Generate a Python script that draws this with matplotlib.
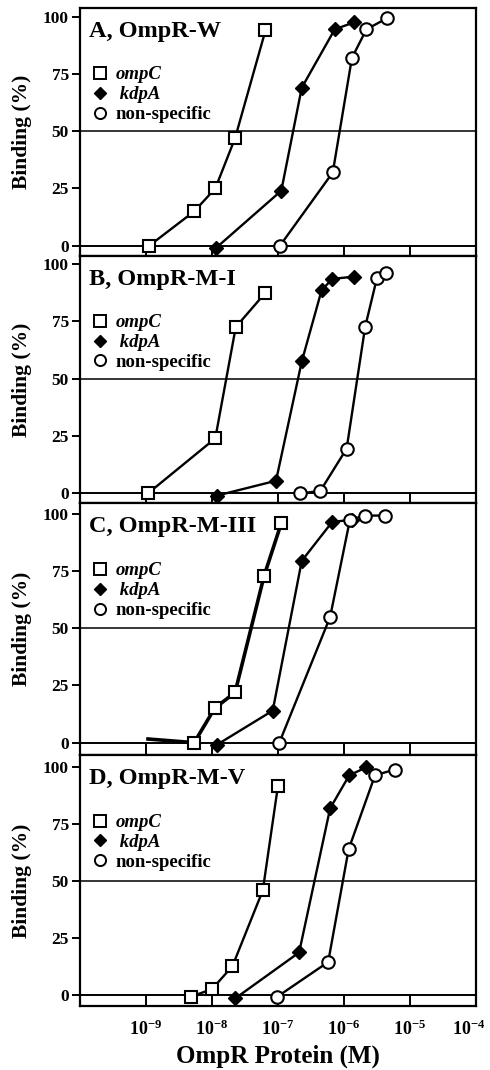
import matplotlib
matplotlib.use("Agg")
import matplotlib.pyplot as plt
import matplotlib.transforms as mtransforms
from matplotlib.lines import Line2D
import numpy as np

plt.rcParams['font.family'] = ['Liberation Serif', 'DejaVu Serif']
plt.rcParams['font.weight'] = 'bold'
plt.rcParams['mathtext.fontset'] = 'custom'
plt.rcParams['mathtext.rm'] = 'Liberation Serif:bold'
plt.rcParams['mathtext.it'] = 'Liberation Serif:bold:italic'
plt.rcParams['mathtext.bf'] = 'Liberation Serif:bold'

# ---- data (log10 of OmpR concentration in M, binding %) ----
panel_titles = ["A, OmpR-W", "B, OmpR-M-I", "C, OmpR-M-III", "D, OmpR-M-V"]
series_labels = ["ompC", " kdpA", "non-specific"]

# Panel A
a_ompc_logx = [-8.95, -8.27, -7.95, -7.65, -7.19]
a_ompc_y = [0, 15, 25, 47, 94]
a_kdpa_logx = [-7.94, -6.95, -6.64, -6.14, -5.85]
a_kdpa_y = [-1, 24, 69, 94.5, 97.5]
a_ns_logx = [-6.97, -6.17, -5.88, -5.66, -5.35]
a_ns_y = [0, 32, 82, 94.5, 99.3]

# Panel B
b_ompc_logx = [-8.97, -7.95, -7.64, -7.19]
b_ompc_y = [0, 24, 72.5, 87.5]
b_kdpa_logx = [-7.93, -7.03, -6.64, -6.34, -6.18, -5.85]
b_kdpa_y = [-1, 5.5, 57.5, 88.5, 93.5, 94.5]
b_ns_logx = [-6.67, -6.36, -5.96, -5.68, -5.50, -5.36]
b_ns_y = [0, 1, 19.5, 72.5, 94, 96]

# Panel C (first ompC point has no visible marker)
c_ompc_logx = [-8.97, -8.27, -7.96, -7.65, -7.21, -6.95]
c_ompc_y = [1.6, 0, 15, 22, 73, 96]
c_kdpa_logx = [-7.93, -7.08, -6.64, -6.18, -5.88]
c_kdpa_y = [-1, 14, 79.5, 96.5, 97.5]
c_ns_logx = [-6.98, -6.21, -5.91, -5.68, -5.38]
c_ns_y = [0, 55, 97.5, 99.3, 99.3]

# Panel D
d_ompc_logx = [-8.32, -8.00, -7.69, -7.23, -7.00]
d_ompc_y = [-0.7, 2.6, 12.7, 46, 92]
d_kdpa_logx = [-7.65, -6.68, -6.21, -5.92, -5.66]
d_kdpa_y = [-1.5, 18.7, 82, 96.5, 100]
d_ns_logx = [-7.01, -6.24, -5.93, -5.53, -5.23]
d_ns_y = [-0.7, 14.5, 64, 96.5, 99]

panels = [
    (a_ompc_logx, a_ompc_y, a_kdpa_logx, a_kdpa_y, a_ns_logx, a_ns_y),
    (b_ompc_logx, b_ompc_y, b_kdpa_logx, b_kdpa_y, b_ns_logx, b_ns_y),
    (c_ompc_logx, c_ompc_y, c_kdpa_logx, c_kdpa_y, c_ns_logx, c_ns_y),
    (d_ompc_logx, d_ompc_y, d_kdpa_logx, d_kdpa_y, d_ns_logx, d_ns_y),
]

y_ticks = [0, 25, 50, 75, 100]
x_tick_exps = [-9, -8, -7, -6, -5, -4]

# ---- layout ----
W, H = 490, 1070
fig = plt.figure(figsize=(W / 100, H / 100), dpi=100)
left_px, right_px = 80, 476
panel_px = [(8, 256), (256, 503), (503, 755), (755, 1006)]
ylims = [(-4.5, 103.8), (-4.2, 103.5), (-5.4, 104.8), (-4.8, 105.4)]

for i, (top, bot) in enumerate(panel_px):
    ax = fig.add_axes([left_px / W, 1 - bot / H, (right_px - left_px) / W, (bot - top) / H])
    ox, oy, kx, ky, nx, ny = panels[i]
    ox = 10.0 ** np.array(ox); kx = 10.0 ** np.array(kx); nx = 10.0 ** np.array(nx)

    ax.axhline(0, color='black', lw=1.4, zorder=1)
    ax.axhline(50, color='black', lw=1.1, zorder=1)

    lw_o = 2.6 if i == 2 else 1.7
    if i == 2:
        ax.plot(ox, oy, '-', color='black', lw=lw_o, zorder=2)
        ax.plot(ox[1:], oy[1:], 's', ms=9, mfc='white', mec='black', mew=1.5, zorder=4)
    else:
        ax.plot(ox, oy, '-s', color='black', lw=lw_o, ms=9, mfc='white', mec='black', mew=1.5, zorder=3)
    ax.plot(kx, ky, '-D', color='black', lw=1.7, ms=7, mfc='black', mec='black', zorder=3)
    ax.plot(nx, ny, '-o', color='black', lw=1.7, ms=9, mfc='white', mec='black', mew=1.5, zorder=3)

    ax.set_xscale('log')
    ax.set_xlim(1e-10, 1e-4)
    ax.set_ylim(*ylims[i])
    ax.set_yticks(y_ticks)
    ax.set_yticklabels([str(t) for t in y_ticks], fontsize=12.5, fontweight='bold')
    ax.tick_params(axis='y', direction='out', length=6, width=1.4, pad=2)
    ax.set_xticks([10.0 ** e for e in x_tick_exps])
    ax.xaxis.set_minor_locator(matplotlib.ticker.NullLocator())
    ax.tick_params(axis='x', direction='in', length=8, width=1.4, top=False)
    if i == 3:
        ax.set_xticklabels([r'$10^{%d}$' % e for e in x_tick_exps], fontsize=13)
        ax.tick_params(axis='x', pad=10)
        ax.set_xlabel('OmpR Protein (M)', fontsize=18, fontweight='bold', labelpad=4)
        last = ax.get_xticklabels()[-1]
        last.set_transform(last.get_transform() +
                           mtransforms.ScaledTranslation(-7 / 100, 0, fig.dpi_scale_trans))
    else:
        ax.set_xticklabels([])
    for sp in ax.spines.values():
        sp.set_linewidth(1.6)

    ax.set_ylabel('Binding (%)', fontsize=15.5, fontweight='bold')
    ax.yaxis.set_label_coords(-0.12, 0.5)

    ax.text(0.023, 0.905, panel_titles[i], transform=ax.transAxes, fontsize=17.5,
            fontweight='bold', va='center', ha='left')

    handles = [
        Line2D([], [], ls='none', marker='s', ms=8, mfc='white', mec='black', mew=1.4),
        Line2D([], [], ls='none', marker='D', ms=6.5, mfc='black', mec='black'),
        Line2D([], [], ls='none', marker='o', ms=8, mfc='white', mec='black', mew=1.4),
    ]
    leg = ax.legend(handles, series_labels, loc='upper left', bbox_to_anchor=(0.03, 0.765),
                    frameon=False, fontsize=13.5, handlelength=0.9, handletextpad=0.35,
                    labelspacing=0.15, borderpad=0, borderaxespad=0)
    for t, it in zip(leg.get_texts(), [True, True, False]):
        t.set_fontweight('bold')
        if it:
            t.set_fontstyle('italic')

fig.savefig('out.png', dpi=100)
